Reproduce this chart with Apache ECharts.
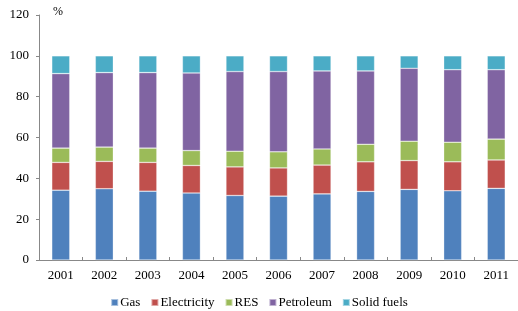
<!DOCTYPE html>
<html>
<head>
<meta charset="utf-8">
<script src="https://cdn.jsdelivr.net/npm/echarts@6/dist/echarts.min.js"></script>
<style>
  body { margin: 0; background: #fff; }
  #chart { width: 518px; height: 311px; }
</style>
</head>
<body>
<div id="chart"></div>
<script>
  var years = ['2001', '2002', '2003', '2004', '2005', '2006', '2007', '2008', '2009', '2010', '2011'];
  var gas = [34.2, 34.9, 33.7, 32.8, 31.6, 31.3, 32.4, 33.6, 34.6, 33.9, 35.1];
  var electricity = [13.6, 13.4, 14.1, 13.5, 14.0, 13.8, 14.1, 14.5, 14.1, 14.2, 13.9];
  var res = [7.0, 7.0, 7.0, 7.3, 7.7, 7.9, 7.9, 8.6, 9.5, 9.6, 10.2];
  var petroleum = [36.5, 36.5, 37.0, 38.0, 39.0, 39.3, 38.2, 35.9, 35.7, 35.5, 34.0];
  var solidFuels = [8.7, 8.2, 8.2, 8.4, 7.7, 7.7, 7.4, 7.4, 6.1, 6.8, 6.8];

  var serif = '"Liberation Serif", "DejaVu Serif", serif';
  var myChart = echarts.init(document.getElementById('chart'));

  function bar(name, values, color) {
    return {
      name: name,
      type: 'bar',
      stack: 'total',
      barWidth: 18,
      data: values,
      itemStyle: { color: color, borderColor: 'rgba(255,255,255,0.5)', borderWidth: 0.6 }
    };
  }

  myChart.setOption({
    animation: false,
    grid: { left: 39, right: -4, top: 15, bottom: 51 },
    legend: {
      bottom: 2,
      padding: 0,
      left: 'center',
      itemWidth: 7,
      itemHeight: 7,
      itemGap: 10,
      icon: 'rect',
      textStyle: { fontFamily: serif, fontSize: 13, color: '#000', padding: [0, 0, 0, -3] },
      data: ['Gas', 'Electricity', 'RES', 'Petroleum', 'Solid fuels']
    },
    xAxis: {
      type: 'category',
      data: years,
      axisLine: { lineStyle: { color: '#888' } },
      axisTick: { show: true, inside: true, length: 3, lineStyle: { color: '#888' } },
      axisLabel: { fontFamily: serif, fontSize: 13, color: '#000', margin: 9 }
    },
    yAxis: {
      type: 'value',
      min: 0,
      max: 120,
      interval: 20,
      name: '%',
      nameLocation: 'end',
      nameGap: -3,
      nameTextStyle: { fontFamily: serif, fontSize: 12, color: '#000', align: 'left', padding: [0, 0, 0, 14] },
      splitLine: { show: false },
      axisLine: { show: true, lineStyle: { color: '#888' } },
      axisTick: { show: true, length: 3, lineStyle: { color: '#888' } },
      axisLabel: { fontFamily: serif, fontSize: 13, color: '#000', margin: 10 }
    },
    series: [
      bar('Gas', gas, '#4F81BD'),
      bar('Electricity', electricity, '#C0504D'),
      bar('RES', res, '#9BBB59'),
      bar('Petroleum', petroleum, '#8064A2'),
      bar('Solid fuels', solidFuels, '#4BACC6')
    ]
  });
</script>
</body>
</html>
